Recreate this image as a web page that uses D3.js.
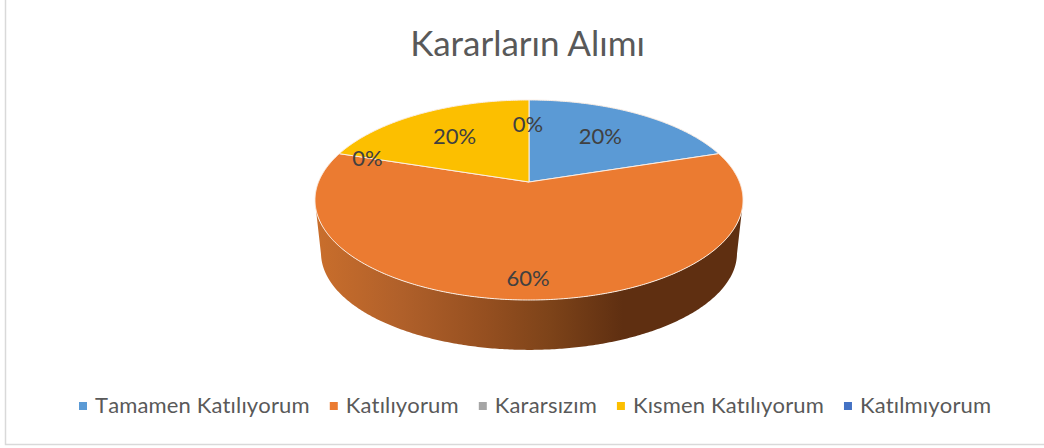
<!DOCTYPE html>
<html>
<head>
<meta charset="utf-8">
<script src="https://cdn.jsdelivr.net/npm/d3@7"></script>
<style>
    html, body { margin: 0; padding: 0; background: #ffffff; }
    svg { display: block; font-family: Lato, "Open Sans", sans-serif; }
</style>
</head>
<body>
<div class="graphContainer"></div>
<script>
// 图表数据
const titleText = 'Kararların Alımı';
const categories = ['Tamamen Katılıyorum', 'Katılıyorum', 'Kararsızım', 'Kısmen Katılıyorum', 'Katılmıyorum'];
const values = [1, 3, 0, 1, 0];
const percentLabels = ['20%', '60%', '0%', '20%', '0%'];
const colors = ['#5b9ad5', '#eb7b31', '#a5a5a5', '#fcbf00', '#4472c4'];

const width = 1044, height = 448;

const svg = d3.select('.graphContainer')
    .append('svg')
    .attr('width', width)
    .attr('height', height);

// 外框
svg.append('path')
    .attr('d', `M5.5 0 V444.5 H${width}`)
    .attr('fill', 'none')
    .attr('stroke', '#d9d9d9')
    .attr('stroke-width', 1.5);

svg.append('text')
    .attr('x', 527.5)
    .attr('y', 56)
    .attr('text-anchor', 'middle')
    .style('font-size', '35px')
    .style('fill', '#595959')
    .text(titleText);

// 透视投影：把单位圆上的角度映射到屏幕上的椭圆
const cx = 529;
const topDisc = {cy: 182, a: 210.5, b: 96.76, p: 0.18};
const bottomDisc = {cy: 235.5, a: 204.6, b: 93.8, p: 0.18};
const project = (angle, disc, r = 1) => {
    const u = Math.sin(angle) * r, v = -Math.cos(angle) * r;
    const w = 1 - disc.p * v;
    return [cx + disc.a * u / w, disc.cy + disc.b * v / w];
};

const pie = d3.pie().value(d => d).sort(null);
const arcs = pie(values);
const line = d3.line();

// 侧面
const wallGradient = svg.append('defs')
    .append('linearGradient')
    .attr('id', 'wallGradient')
    .attr('gradientUnits', 'userSpaceOnUse')
    .attr('x1', 316).attr('x2', 742)
    .attr('y1', 0).attr('y2', 0);
[[0, '#c96e2c'], [0.2, '#b0602a'], [0.4, '#954f20'], [0.55, '#7d4319'], [0.72, '#5f2f11'], [1, '#5f2f11']]
    .forEach(s => wallGradient.append('stop').attr('offset', s[0]).attr('stop-color', s[1]));

const wallAngles = d3.range(Math.PI * 0.56, Math.PI * 1.44, 0.01);
const wallPoints = wallAngles.map(a => project(a, topDisc))
    .concat(wallAngles.slice().reverse().map(a => project(a, bottomDisc)));
svg.append('path')
    .attr('d', line(wallPoints) + 'Z')
    .attr('fill', 'url(#wallGradient)');

// 扇区
const sectorPoints = d => {
    const steps = d3.range(d.startAngle, d.endAngle, 0.01).concat([d.endAngle]);
    return [project(0, topDisc, 0)].concat(steps.map(a => project(a, topDisc)));
};
svg.append('g')
    .selectAll('path')
    .data(arcs)
    .enter()
    .append('path')
    .attr('d', d => line(sectorPoints(d)) + 'Z')
    .attr('fill', (d, i) => colors[i])
    .attr('stroke', d => d.value > 0 ? '#fbeee4' : 'none')
    .attr('stroke-width', 1);

// 百分比标签
const labelRadius = [0.64, 0.842, 0.84, 0.65, 0.672];
svg.append('g')
    .selectAll('text')
    .data(arcs)
    .enter()
    .append('text')
    .attr('x', (d, i) => project((d.startAngle + d.endAngle) / 2, topDisc, labelRadius[i])[0] - 1)
    .attr('y', (d, i) => project((d.startAngle + d.endAngle) / 2, topDisc, labelRadius[i])[1] + 8)
    .attr('text-anchor', 'middle')
    .style('font-size', '22px')
    .style('fill', '#404040')
    .text((d, i) => percentLabels[i]);

// 图例
const legend = svg.append('g')
    .style('font-kerning', 'none')
    .style('letter-spacing', '0.15px');
let legendX = 79;
categories.forEach((name, i) => {
    legend.append('rect')
        .attr('x', legendX).attr('y', 402)
        .attr('width', 8).attr('height', 8)
        .attr('fill', colors[i]);
    const label = legend.append('text')
        .attr('x', legendX + 16)
        .attr('y', 413)
        .style('font-size', '22px')
        .style('fill', '#595959')
        .text(name);
    legendX += 16 + label.node().getComputedTextLength() + 20;
});
</script>
</body>
</html>
